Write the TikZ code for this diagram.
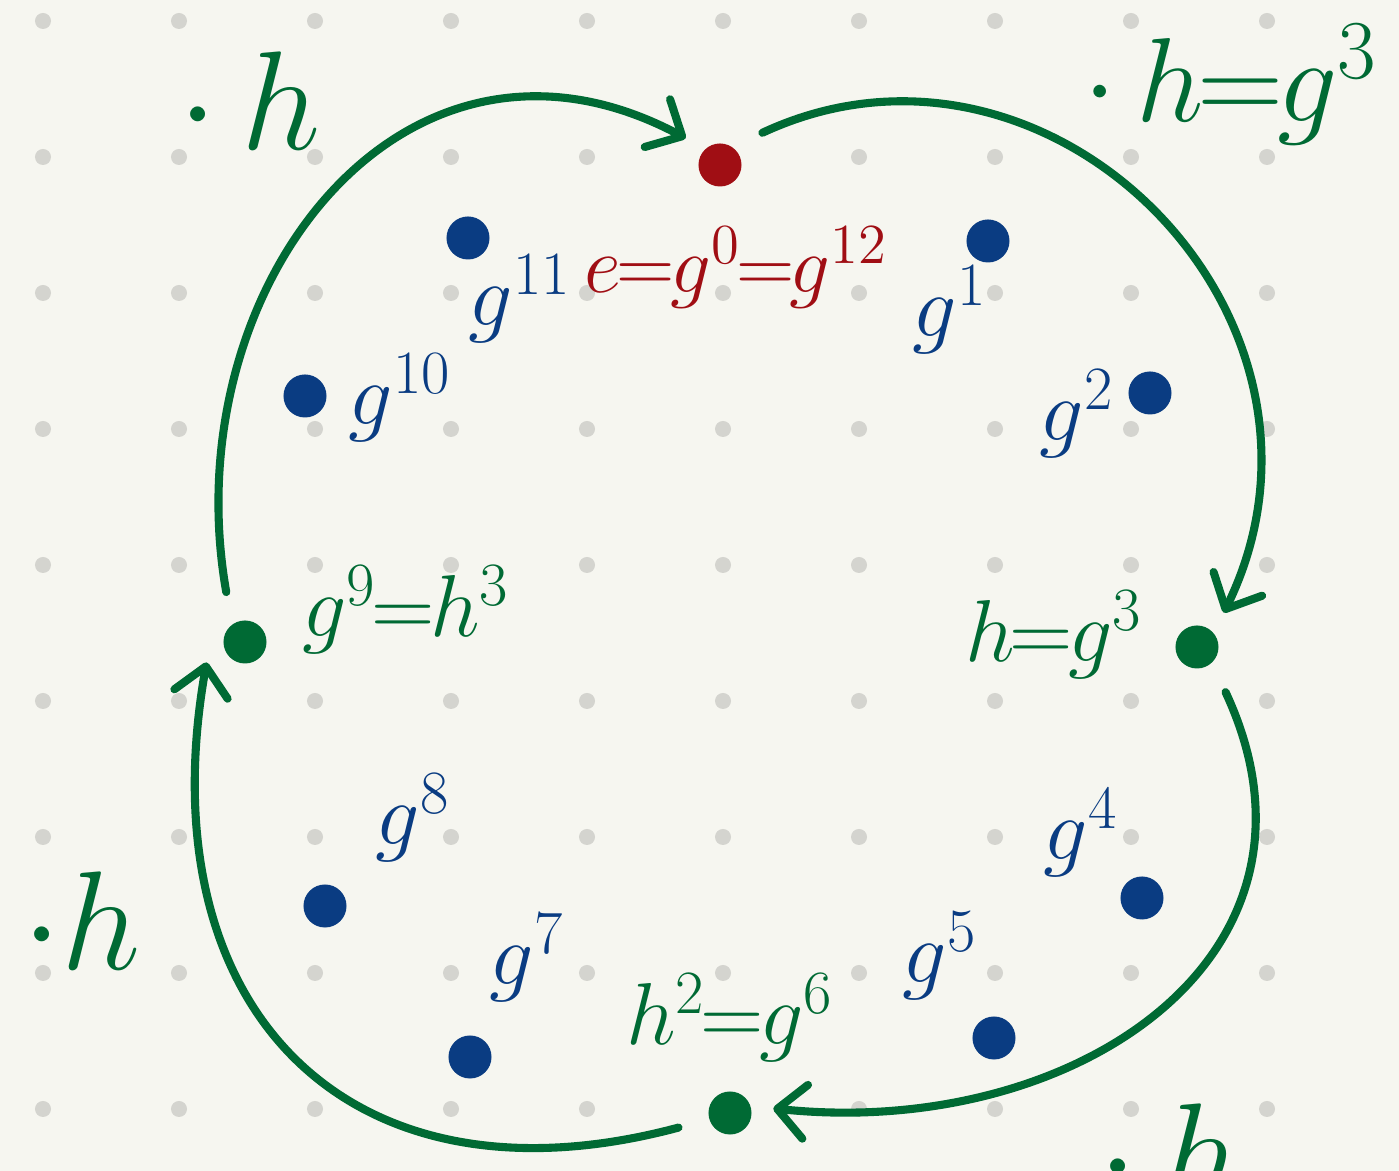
\RequirePackage{fix-cm}
\documentclass[tikz,border=0pt]{standalone}
\usepackage{tikz}
\usetikzlibrary{arrows.meta}
\definecolor{paper}{RGB}{246,246,240}
\definecolor{dotgrey}{RGB}{212,212,207}
\definecolor{cycgreen}{RGB}{0,106,52}
\definecolor{unitred}{RGB}{160,14,20}
\definecolor{powblue}{RGB}{10,60,130}
\newcommand{\tq}{\mkern-1mu{=}\mkern-1mu}

\begin{document}
\begin{tikzpicture}[x=0.01cm, y=0.01cm,
    elem/.style={circle, fill, inner sep=0pt, minimum size=4.3mm, outer sep=2.2mm},
    flow/.style={cycgreen, line width=2.3pt, line cap=round, shorten <=1mm,
      -{Straight Barb[length=2.8mm, width=5.4mm, round]}},
    lab/.style={font=\fontsize{25}{28}\selectfont, anchor=base},
    biglab/.style={font=\fontsize{40}{44}\selectfont, anchor=base west,
      inner sep=0pt, cycgreen}]
  % paper and dot grid
  \fill[paper] (0,0) rectangle (1399,-1171);
  \useasboundingbox (0,0) rectangle (1399,-1171);
  \foreach \i in {0,...,9}{
    \foreach \j in {0,...,8}{
      \fill[dotgrey] (43+136*\i, -21-136*\j) circle[radius=0.08cm];
    }
  }

  % the twelve powers of g
  \node[elem, unitred] (e) at (720,-165) {};
  \node[elem, powblue] (g1) at (988,-241) {};
  \node[elem, powblue] (g2) at (1150,-393) {};
  \node[elem, cycgreen] (h) at (1197,-647) {};
  \node[elem, powblue] (g4) at (1142,-898) {};
  \node[elem, powblue] (g5) at (994,-1038) {};
  \node[elem, cycgreen] (g6) at (730,-1113) {};
  \node[elem, powblue] (g7) at (470,-1057) {};
  \node[elem, powblue] (g8) at (325,-906) {};
  \node[elem, cycgreen] (g9) at (245,-642) {};
  \node[elem, powblue] (g10) at (305,-396) {};
  \node[elem, powblue] (g11) at (468,-238) {};

  % labels
  \node[lab, unitred, font=\fontsize{23}{26}\selectfont] (le) at (736,-293)
    {$e\tq g^0\tq g^{12}$};
  \node[lab, powblue] (l1) at (950,-337) {$g^1$};
  \node[lab, powblue] (l2) at (1077,-441) {$g^2$};
  \node[lab, cycgreen] (l3) at (1054,-662) {$h\tq g^3$};
  \node[lab, powblue] (l4) at (1081,-860) {$g^4$};
  \node[lab, powblue] (l5) at (940,-983) {$g^5$};
  \node[lab, cycgreen] (l6) at (730,-1045) {$h^2\tq g^6$};
  \node[lab, powblue] (l7) at (527,-985) {$g^7$};
  \node[lab, powblue] (l8) at (413,-845) {$g^8$};
  \node[lab, cycgreen] (l9) at (406,-637) {$g^9\tq h^3$};
  \node[lab, powblue] (l10) at (400,-425) {$g^{10}$};
  \node[lab, powblue] (l11) at (520,-326) {$g^{11}$};

  % acting by h
  \node[biglab] (act1) at (178,-150) {${\cdot}\,h$};
  \node[biglab, font=\fontsize{34}{38}\selectfont] (act2) at (1083,-122)
    {${\cdot}\,h\tq g^3$};
  \node[biglab] (act3) at (22,-970) {${\cdot}h$};
  \node[biglab] (act4) at (1098,-1202) {${\cdot}\,h$};

  % the h-orbit arcs
  \draw[flow] (g9.113) to[out=100, in=152, looseness=1.25] (e.142);
  \draw[flow] (e.40) to[out=25, in=64, looseness=1.25] (h.52);
  \draw[flow] (h.-56) to[out=-65, in=-6, looseness=1.25] (g6.6);
  \draw[flow] (g6.196) to[out=195, in=-100, looseness=1.35] (g9.208);
\end{tikzpicture}
\end{document}
